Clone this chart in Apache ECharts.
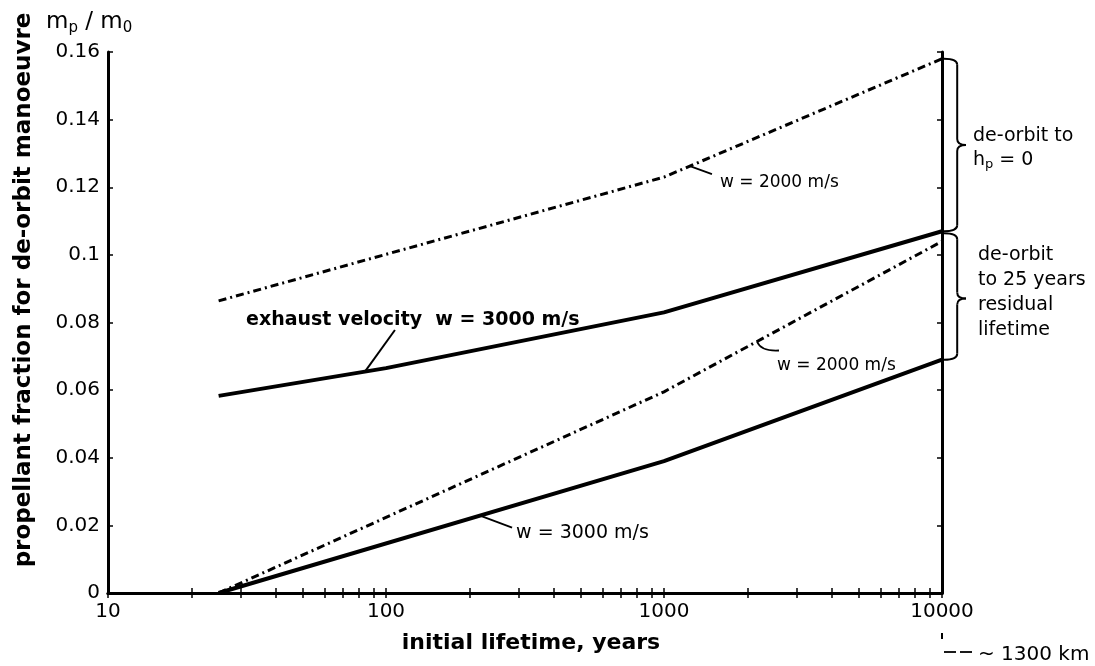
<!DOCTYPE html>
<html><head><meta charset="utf-8">
<script src="https://cdn.jsdelivr.net/npm/echarts@6/dist/echarts.min.js"></script>
<style>html,body{margin:0;padding:0;background:#fff}#c{width:1095px;height:666px}</style>
</head><body><div id="c"></div>
<script>
// ---- data ----
const xTickLabels = [10, 100, 1000, 10000];
const yTickValues = [0, 0.02, 0.04, 0.06, 0.08, 0.1, 0.12, 0.14, 0.16];
const minorTickYears = [10,20,30,40,50,60,70,80,90,100,200,300,400,500,600,700,800,900,1000,2000,3000,4000,5000,6000,7000,8000,9000,10000];

const lifetimeW2000Zero = [25, 1000, 10000];
const w2000DeorbitZero = [0.0864, 0.123, 0.158];

const lifetimeW3000Zero = [25, 100, 1000, 10000];
const w3000DeorbitZero = [0.0583, 0.0665, 0.083, 0.107];

const lifetimeW2000Res = [25, 1000, 10000];
const w2000Residual25 = [0, 0.0595, 0.104];

const lifetimeW3000Res = [25, 1000, 10000];
const w3000Residual25 = [0, 0.039, 0.069];

const FONT = 'DejaVu Sans';
const zip = (xs, ys) => xs.map((x, i) => [x, ys[i]]);

const chart = echarts.init(document.getElementById('c'), null, {renderer: 'canvas'});

const axisLine = {show: true, lineStyle: {color: '#000', width: 3}};
const xTick = {show: true, inside: true, length: 5, customValues: minorTickYears, lineStyle: {color: '#000', width: 1.5}};
const yTick = {show: true, inside: true, length: 5, lineStyle: {color: '#000', width: 1.5}};

chart.setOption({
  animation: false,
  backgroundColor: '#fff',
  grid: {left: 108, right: 153, top: 52, bottom: 73},
  xAxis: [
    {type: 'log', logBase: 10, min: 10, max: 10000, position: 'bottom',
     axisLine: axisLine, axisTick: xTick, splitLine: {show: false}, minorTick: {show: false},
     axisLabel: {color: '#000', fontFamily: FONT, fontSize: 20, margin: 9, customValues: xTickLabels,
                 formatter: v => String(Math.round(v))}},
    {type: 'log', logBase: 10, min: 10, max: 10000, position: 'top',
     axisLine: axisLine, axisTick: xTick, splitLine: {show: false}, axisLabel: {show: false}}
  ],
  yAxis: [
    {type: 'value', min: 0, max: 0.16, interval: 0.02, position: 'left',
     axisLine: axisLine, axisTick: yTick, splitLine: {show: false},
     axisLabel: {color: '#000', fontFamily: FONT, fontSize: 20, margin: 8}},
    {type: 'value', min: 0, max: 0.16, interval: 0.02, position: 'right',
     axisLine: axisLine, axisTick: yTick, splitLine: {show: false}, axisLabel: {show: false}}
  ],
  series: [
    {name: 'w = 2000 m/s, de-orbit to hp = 0', type: 'line', symbol: 'none', xAxisIndex: 0, yAxisIndex: 0,
     data: zip(lifetimeW2000Zero, w2000DeorbitZero),
     lineStyle: {color: '#000', width: 3, type: [8, 4, 2, 4]}},
    {name: 'w = 3000 m/s, de-orbit to hp = 0', type: 'line', symbol: 'none', xAxisIndex: 0, yAxisIndex: 0,
     data: zip(lifetimeW3000Zero, w3000DeorbitZero),
     lineStyle: {color: '#000', width: 4}},
    {name: 'w = 2000 m/s, 25 years residual', type: 'line', symbol: 'none', xAxisIndex: 0, yAxisIndex: 0,
     data: zip(lifetimeW2000Res, w2000Residual25),
     lineStyle: {color: '#000', width: 3, type: [8, 4, 2, 4]}},
    {name: 'w = 3000 m/s, 25 years residual', type: 'line', symbol: 'none', xAxisIndex: 0, yAxisIndex: 0,
     data: zip(lifetimeW3000Res, w3000Residual25),
     lineStyle: {color: '#000', width: 4}}
  ]
});

// ---- annotations, anchored via the chart's own scales ----
const px = (x, y) => chart.convertToPixel({xAxisIndex: 0, yAxisIndex: 0}, [x, y]);
function pointOn(xs, ys, x) {
  for (let i = 0; i < xs.length - 1; i++) {
    if (x >= xs[i] && x <= xs[i + 1]) {
      const t = (Math.log10(x) - Math.log10(xs[i])) / (Math.log10(xs[i + 1]) - Math.log10(xs[i]));
      return px(x, ys[i] + t * (ys[i + 1] - ys[i]));
    }
  }
  return px(x, ys[ys.length - 1]);
}
const txt = (x, y, text, size, weight) => ({
  type: 'text', x: x, y: y,
  style: {text: text, fill: '#000', font: (weight || 'normal') + ' ' + size + 'px "' + FONT + '"',
    textAlign: 'left', textVerticalAlign: 'middle'}
});
const line = (x1, y1, x2, y2, w) => ({type: 'line', shape: {x1, y1, x2, y2}, style: {stroke: '#000', lineWidth: w || 1.8}});
const curve = (x1, y1, cx, cy, x2, y2, w) => ({type: 'bezierCurve',
  shape: {x1, y1, x2, y2, cpx1: cx, cpy1: cy}, style: {stroke: '#000', lineWidth: w || 2, fill: null}});

function brace(x0, yTop, yBot, yTip, w) {
  const xm = x0 + w * 0.6, xt = x0 + w, r = 6;
  return [
    curve(x0, yTop, xm, yTop, xm, yTop + r),
    line(xm, yTop + r, xm, yTip - r, 2),
    curve(xm, yTip - r, xm, yTip, xt, yTip),
    curve(xt, yTip, xm, yTip, xm, yTip + r),
    line(xm, yTip + r, xm, yBot - r, 2),
    curve(xm, yBot - r, xm, yBot, x0, yBot)
  ];
}

const right = px(10000, 0)[0];
const pExh = pointOn(lifetimeW3000Zero, w3000DeorbitZero, 84);
const pUp2 = pointOn(lifetimeW2000Zero, w2000DeorbitZero, 1240);
const pLo2 = pointOn(lifetimeW2000Res, w2000Residual25, 2160);
const pLo3 = pointOn(lifetimeW3000Res, w3000Residual25, 218);
const b1Top = px(10000, 0.158)[1], b1Bot = px(10000, 0.107)[1];
const b2Top = b1Bot + 2, b2Bot = px(10000, 0.069)[1];

chart.setOption({graphic: [
  // y-axis quantity and title
  {type: 'text', x: 46, y: 22, style: {
    text: 'm{s|p} / m{s|0}', fill: '#000', font: 'normal 23px "' + FONT + '"', textVerticalAlign: 'middle',
    rich: {s: {fontSize: 15, fontFamily: FONT, verticalAlign: 'bottom', padding: [12, 0, 0, 0]}}}},
  {type: 'text', x: 24, y: 290, rotation: Math.PI / 2, style: {
    text: 'propellant fraction for de-orbit manoeuvre', fill: '#000',
    font: 'bold 23px "' + FONT + '"', textAlign: 'center', textVerticalAlign: 'middle'}},
  {type: 'text', x: 531, y: 643, style: {
    text: 'initial lifetime, years', fill: '#000',
    font: 'bold 22px "' + FONT + '"', textAlign: 'center', textVerticalAlign: 'middle'}},
  // curve labels with pointers
  txt(246, 320, 'exhaust velocity  w = 3000 m/s', 19, 'bold'),
  line(pExh[0] + 30, 330, pExh[0], pExh[1], 2),
  line(pUp2[0], pUp2[1], pUp2[0] + 22, pUp2[1] + 8, 1.8),
  txt(pUp2[0] + 30, 183, 'w = 2000 m/s', 17),
  curve(pLo2[0], pLo2[1], pLo2[0] + 4, pLo2[1] + 10, pLo2[0] + 22, pLo2[1] + 9, 1.8),
  txt(pLo2[0] + 20, 366, 'w = 2000 m/s', 17),
  line(pLo3[0], pLo3[1], pLo3[0] + 32, pLo3[1] + 12, 1.8),
  txt(pLo3[0] + 36, 533, 'w = 3000 m/s', 19),
  // right-hand braces
  ...brace(right + 2, b1Top, b1Bot, (b1Top + b1Bot) / 2, 22),
  ...brace(right + 2, b2Top, b2Bot, (b2Top + b2Bot) / 2 + 2, 22),
  txt(973, 136, 'de-orbit to', 19),
  {type: 'text', x: 973, y: 160, style: {
    text: 'h{s|p} = 0', fill: '#000', font: 'normal 19px "' + FONT + '"', textVerticalAlign: 'middle',
    rich: {s: {fontSize: 13, fontFamily: FONT, verticalAlign: 'bottom', padding: [10, 0, 0, 0]}}}},
  txt(978, 255, 'de-orbit', 19),
  txt(978, 280, 'to 25 years', 19),
  txt(978, 305, 'residual', 19),
  txt(978, 330, 'lifetime', 19),
  // altitude note under the axis end
  line(right, 633, right, 639, 2),
  line(right + 2, 652, right + 14, 652, 1.8),
  line(right + 18, 652, right + 30, 652, 1.8),
  txt(978, 655, '~ 1300 km', 20)
]});
</script>
</body></html>
